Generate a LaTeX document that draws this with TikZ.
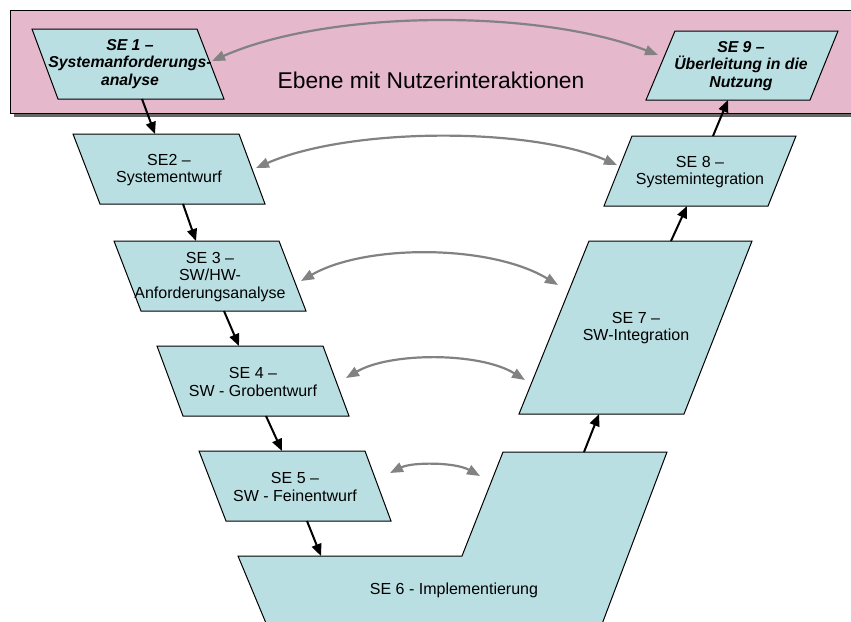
\documentclass[tikz,border=0pt]{standalone}
\usepackage{fontspec}
\setmainfont{Liberation Sans}
\usetikzlibrary{arrows.meta}
\definecolor{bandpink}{RGB}{229,184,204}
\definecolor{stagefill}{RGB}{186,223,227}
\definecolor{linkgray}{RGB}{130,130,130}
\tikzset{
  stage/.style={fill=stagefill, draw=black, line width=1pt, line join=miter},
  lbl/.style={align=center, inner sep=0pt, font=\fontsize{16}{17.5}\selectfont},
  lblbold/.style={align=center, inner sep=0pt, font=\fontsize{15.8}{17.5}\selectfont\bfseries\itshape},
  flow/.style={-{Triangle[length=12pt,width=10pt]}, line width=2pt, black},
  pair/.style={{Triangle[length=13pt,width=10pt]}-{Triangle[length=13pt,width=10pt]}, line width=2.2pt, linkgray},
}
\begin{document}
\begin{tikzpicture}[x=1pt,y=-1pt]
\useasboundingbox (0,0) rectangle (851,621);
\clip (0,0) rectangle (851,621);

% user-interaction band with drop shadow
\fill[black!60] (14,14) rectangle (870,117);
\draw[fill=bandpink, line width=1pt] (10,10) rectangle (866,113);
\node[font=\fontsize{22.8}{26}\selectfont, inner sep=0pt] (band) at (431,80) {Ebene mit Nutzerinteraktionen};

% stages, left branch
\path[stage] (32,29) -- (197,29) -- (224,99) -- (58,99) -- cycle;
\path[stage] (73,134) -- (239,134) -- (265,204) -- (100,204) -- cycle;
\path[stage] (114,241) -- (279,241) -- (306,311) -- (141,311) -- cycle;
\path[stage] (157,346) -- (323,346) -- (349,416) -- (183,416) -- cycle;
\path[stage] (199,451) -- (365,451) -- (391,521) -- (226,521) -- cycle;
% implementation stage (runs off the bottom)
\path[stage] (238,556) -- (462,556) -- (503,452) -- (667,452) -- (596,640) -- (273,640) -- cycle;
% stages, right branch
\path[stage] (589,241) -- (752,241) -- (684,414) -- (519,414) -- cycle;
\path[stage] (632,136) -- (796,136) -- (768,206) -- (604,206) -- cycle;
\path[stage] (675,31) -- (838,31) -- (810,100) -- (646,100) -- cycle;

% stage labels
\node[lblbold] (se1) at (130,64) {SE 1 --\\Systemanforderungs-\\analyse};
\node[lbl] (se2) at (169,170) {SE2 --\\Systementwurf};
\node[lbl] (se3) at (210,277) {SE 3 --\\SW/HW-\\Anforderungsanalyse};
\node[lbl] (se4) at (253,382) {SE 4 --\\SW - Grobentwurf};
\node[lbl] (se5) at (295,487) {SE 5 --\\SW - Feinentwurf};
\node[lbl] (se6) at (454,590) {SE 6 - Implementierung};
\node[lbl] (se7) at (636,328) {SE 7 --\\SW-Integration};
\node[lbl] (se8) at (700,172) {SE 8 --\\Systemintegration};
\node[lblbold] (se9) at (741,66) {SE 9 --\\Überleitung in die\\Nutzung};

% connector end points
\coordinate (s1b) at (142,99);  \coordinate (s2t) at (155,134);
\coordinate (s2b) at (183,204); \coordinate (s3t) at (196,241);
\coordinate (s3b) at (224,311); \coordinate (s4t) at (239,346);
\coordinate (s4b) at (266,416); \coordinate (s5t) at (282,451);
\coordinate (s5b) at (307,521); \coordinate (s6t) at (321,556);
\coordinate (s6u) at (584,452); \coordinate (s7b) at (599,414);
\coordinate (s7t) at (671,241); \coordinate (s8b) at (687,206);
\coordinate (s8t) at (713,136); \coordinate (s9b) at (728,100);

\coordinate (s1r) at (212,61);  \coordinate (s9l) at (658,55);
\coordinate (s2r) at (256,168); \coordinate (s8l) at (617,165);
\coordinate (s3r) at (301,281); \coordinate (s7l) at (558,285);
\coordinate (s4r) at (346,378); \coordinate (s7m) at (525,380);
\coordinate (s5r) at (390,473); \coordinate (s6l) at (480,476);

% development flow
\draw[flow] (s1b) -- (s2t);
\draw[flow] (s2b) -- (s3t);
\draw[flow] (s3b) -- (s4t);
\draw[flow] (s4b) -- (s5t);
\draw[flow] (s5b) -- (s6t);
\draw[flow] (s6u) -- (s7b);
\draw[flow] (s7t) -- (s8b);
\draw[flow] (s8t) -- (s9b);

% verification links between matching levels
\draw[pair] (s1r) .. controls (330,9) and (540,9) .. (s9l);
\draw[pair] (s2r) .. controls (350,127) and (530,127) .. (s8l);
\draw[pair] (s3r) .. controls (365,244) and (490,244) .. (s7l);
\draw[pair] (s4r) .. controls (390,352) and (480,352) .. (s7m);
\draw[pair] (s5r) .. controls (412,462) and (455,462) .. (s6l);
\end{tikzpicture}
\end{document}
